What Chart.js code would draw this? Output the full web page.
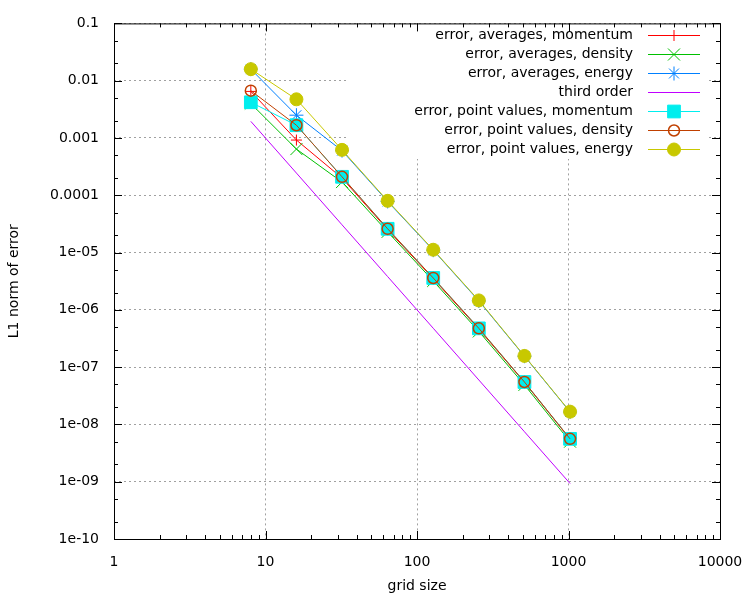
<!DOCTYPE html>
<html>
<head>
<meta charset="utf-8">
<script src="https://cdn.jsdelivr.net/npm/chart.js@4.4.1/dist/chart.umd.min.js"></script>
<style>
  html, body { margin: 0; padding: 0; background: #fff; }
  #wrap { width: 750px; height: 600px; }
</style>
</head>
<body>
<div id="wrap"><canvas id="myChart" width="750" height="600"></canvas></div>
<script>
// grid sizes and L1 errors
const gridSizes = [8, 16, 32, 64, 128, 256, 512, 1024];
const avgMomentum = [6.5e-3, 9.2e-4, 2.0e-4, 2.5e-5, 3.5e-6, 4.6e-7, 5.4e-8, 5.5e-9];
const avgDensity = [4.0e-3, 6.4e-4, 1.7e-4, 2.3e-5, 3.2e-6, 4.2e-7, 4.9e-8, 5.0e-9];
const avgEnergy = [1.59e-2, 2.5e-3, 6.0e-4, 7.8e-5, 1.10e-5, 1.43e-6, 1.55e-7, 1.65e-8];
const thirdOrder = [1.95e-3, 2.44e-4, 3.05e-5, 3.81e-6, 4.77e-7, 5.96e-8, 7.45e-9, 9.31e-10];
const ptMomentum = [4.2e-3, 1.67e-3, 2.1e-4, 2.6e-5, 3.6e-6, 4.75e-7, 5.5e-8, 5.6e-9];
const ptDensity = [6.7e-3, 1.67e-3, 2.1e-4, 2.6e-5, 3.6e-6, 4.75e-7, 5.5e-8, 5.6e-9];
const ptEnergy = [1.59e-2, 4.73e-3, 6.2e-4, 8.0e-5, 1.12e-5, 1.46e-6, 1.57e-7, 1.67e-8];

const xTickValues = [1, 10, 100, 1000, 10000];
const xTickLabels = ['1', '10', '100', '1000', '10000'];
const yTickValues = [1e-10, 1e-9, 1e-8, 1e-7, 1e-6, 1e-5, 1e-4, 1e-3, 1e-2, 1e-1];
const yTickLabels = ['1e-10', '1e-09', '1e-08', '1e-07', '1e-06', '1e-05', '0.0001', '0.001', '0.01', '0.1'];

const FONT = { family: 'DejaVu Sans', size: 14 };

function pts(values) {
    return gridSizes.map((g, i) => ({ x: g, y: values[i] }));
}

function series(label, values, color, style, radius, extra) {
    return Object.assign({
        label: label,
        data: pts(values),
        borderColor: color,
        backgroundColor: color,
        pointBorderColor: color,
        pointBackgroundColor: color,
        borderWidth: 1,
        pointStyle: style,
        pointRadius: radius,
        pointBorderWidth: 1,
        fill: false,
        tension: 0
    }, extra || {});
}

const datasets = [
    series('error, averages, momentum', avgMomentum, '#ff0000', 'cross', 5.5),
    series('error, averages, density', avgDensity, '#00c000', 'crossRot', 8.5),
    series('error, averages, energy', avgEnergy, '#0080ff', 'star', 7),
    series('third order', thirdOrder, '#c000ff', false, 0),
    series('error, point values, momentum', ptMomentum, '#00eeee', 'rect', 9),
    series('error, point values, density', ptDensity, '#c04000', 'circle', 5.5,
        { pointBackgroundColor: 'rgba(0,0,0,0)', pointBorderWidth: 1.5 }),
    series('error, point values, energy', ptEnergy, '#c8c800', 'circle', 6.5)
];
// gnuplot draws later curves on top
datasets.forEach((d, i) => { d.order = datasets.length - i; });

// key box, border, inward ticks
const gnuplotFrame = {
    id: 'gnuplotFrame',
    beforeDatasetsDraw(chart) {
        const ctx = chart.ctx;
        const a = chart.chartArea;
        ctx.save();
        ctx.fillStyle = '#ffffff';
        ctx.fillRect(347, a.top + 1, 706 - 347, 158 - a.top);
        ctx.restore();
    },
    afterDatasetsDraw(chart) {
        const ctx = chart.ctx;
        const a = chart.chartArea;
        const xs = chart.scales.x, ys = chart.scales.y;
        ctx.save();
        ctx.strokeStyle = '#000';
        ctx.lineWidth = 1;
        ctx.setLineDash([]);
        ctx.beginPath();
        // x ticks, 1..9 per decade
        for (let d = 1; d <= 10000; d *= 10) {
            for (let k = 1; k <= 9; k++) {
                const v = k * d;
                if (v > 10000) break;
                const len = k === 1 ? 8 : 4;
                const px = Math.round(xs.getPixelForValue(v)) + 0.5;
                ctx.moveTo(px, a.bottom); ctx.lineTo(px, a.bottom - len);
                ctx.moveTo(px, a.top); ctx.lineTo(px, a.top + len);
            }
        }
        // y ticks, 1 2 5 per decade
        for (let e = -10; e <= -1; e++) {
            [1, 2, 5].forEach(k => {
                const v = k * Math.pow(10, e);
                if (v > 0.1 * 1.0001) return;
                const len = k === 1 ? 8 : 4;
                const py = Math.round(ys.getPixelForValue(v)) + 0.5;
                ctx.moveTo(a.left, py); ctx.lineTo(a.left + len, py);
                ctx.moveTo(a.right, py); ctx.lineTo(a.right - len, py);
            });
        }
        ctx.stroke();
        ctx.strokeRect(a.left + 0.5, a.top + 0.5, a.right - a.left, a.bottom - a.top);

        // key
        ctx.font = FONT.size + 'px "' + FONT.family + '"';
        ctx.textAlign = 'right';
        ctx.textBaseline = 'middle';
        chart.data.datasets.forEach((ds, i) => {
            const y = 35 + 19 * i + 0.5;
            ctx.fillStyle = '#000';
            ctx.fillText(ds.label, 633, y);
            ctx.strokeStyle = ds.borderColor;
            ctx.lineWidth = 1;
            ctx.beginPath();
            ctx.moveTo(648, y); ctx.lineTo(700, y);
            ctx.stroke();
            if (ds.pointStyle && Chart.helpers && Chart.helpers.drawPoint) {
                ctx.fillStyle = ds.pointBackgroundColor;
                ctx.strokeStyle = ds.pointBorderColor;
                ctx.lineWidth = ds.pointBorderWidth;
                Chart.helpers.drawPoint(ctx, {
                    pointStyle: ds.pointStyle,
                    radius: ds.pointRadius,
                    rotation: 0,
                    borderWidth: ds.pointBorderWidth
                }, 674, y);
            }
        });
        ctx.restore();
    }
};

const config = {
    type: 'line',
    data: { datasets: datasets },
    options: {
        responsive: false,
        animation: false,
        devicePixelRatio: 1,
        layout: { padding: { top: 21, right: 30, left: 0, bottom: 0 } },
        plugins: {
            legend: { display: false },
            tooltip: { enabled: false }
        },
        scales: {
            x: {
                type: 'logarithmic',
                min: 1,
                max: 10000,
                afterBuildTicks: s => { s.ticks = xTickValues.map(v => ({ value: v })); },
                afterFit: s => { s.height = 61; s.paddingRight = 30; s.paddingLeft = 0; },
                ticks: {
                    autoSkip: false,
                    maxRotation: 0,
                    padding: 15,
                    color: '#000',
                    font: FONT,
                    callback: (v, i) => xTickLabels[i]
                },
                grid: { color: '#a0a0a0', lineWidth: 1, drawTicks: false },
                border: { display: false, dash: [2, 3] },
                title: {
                    display: true,
                    text: 'grid size',
                    color: '#000',
                    font: FONT,
                    padding: { top: 0, bottom: 5 }
                }
            },
            y: {
                type: 'logarithmic',
                min: 1e-10,
                max: 0.1,
                afterBuildTicks: s => { s.ticks = yTickValues.map(v => ({ value: v })); },
                afterFit: s => { s.width = 114; },
                ticks: {
                    autoSkip: false,
                    padding: 15,
                    color: '#000',
                    font: FONT,
                    callback: (v, i) => yTickLabels[i]
                },
                grid: { color: '#a0a0a0', lineWidth: 1, drawTicks: false },
                border: { display: false, dash: [2, 3] },
                title: {
                    display: true,
                    text: 'L1 norm of error',
                    color: '#000',
                    font: FONT,
                    padding: { top: 6, bottom: 0 }
                }
            }
        }
    },
    plugins: [gnuplotFrame]
};

// =================

var ctx = document.getElementById('myChart');
const myChart = new Chart(ctx, config);
</script>
</body>
</html>
